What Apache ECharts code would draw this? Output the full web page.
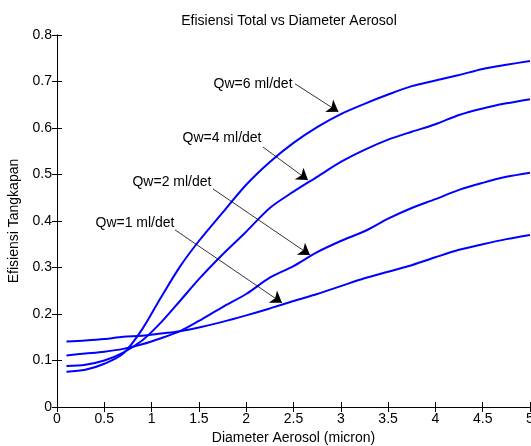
<!DOCTYPE html>
<html>
<head>
<meta charset="utf-8">
<script src="https://cdn.jsdelivr.net/npm/echarts@6/dist/echarts.min.js"></script>
<style>
html,body{margin:0;padding:0;background:#fff;}
#chart{width:531px;height:446px;}
</style>
</head>
<body>
<div id="chart"></div>
<script>
// ---- data ----
const diameter = [0.1,0.3,0.5,0.7,0.9,1.1,1.3,1.5,1.75,2,2.25,2.5,2.75,3,3.25,3.5,3.75,4,4.25,4.5,4.75,5];
const qw1 = [0.141,0.143,0.146,0.151,0.153,0.158,0.163,0.171,0.183,0.197,0.212,0.228,0.243,0.260,0.277,0.291,0.305,0.322,0.338,0.350,0.361,0.370];
const qw2 = [0.111,0.115,0.119,0.125,0.135,0.148,0.163,0.185,0.215,0.243,0.278,0.303,0.333,0.357,0.378,0.405,0.428,0.447,0.467,0.482,0.495,0.504];
const qw4 = [0.088,0.091,0.100,0.117,0.143,0.182,0.228,0.275,0.328,0.377,0.428,0.463,0.495,0.527,0.553,0.575,0.592,0.608,0.628,0.642,0.653,0.662];
const qw6 = [0.076,0.080,0.093,0.115,0.167,0.236,0.302,0.357,0.418,0.478,0.527,0.568,0.602,0.630,0.652,0.672,0.690,0.702,0.714,0.727,0.736,0.744];

const xTickLabels = ['0','0.5','1','1.5','2','2.5','3','3.5','4','4.5','5'];
const yTickLabels = ['0','0.1','0.2','0.3','0.4','0.5','0.6','0.7','0.8'];

const annotationText = ['Qw=1 ml/det','Qw=2 ml/det','Qw=4 ml/det','Qw=6 ml/det'];
const annotationTextAnchor = [[1.247,0.396],[1.638,0.484],[2.167,0.578],[2.495,0.695]];
const arrowStart = [[1.247,0.381],[1.649,0.469],[2.178,0.559],[2.516,0.695]];
const arrowEnd = [[2.378,0.224],[2.674,0.327],[2.653,0.488],[2.975,0.635]];

const seriesValues = [qw1, qw2, qw4, qw6];

// ---- chart ----
const FONT = 'Liberation Sans, Arial, Helvetica, sans-serif';
const chart = echarts.init(document.getElementById('chart'), null, {renderer:'canvas'});

function pairs(ys){ return diameter.map((x,i)=>[x, ys[i]]); }

const series = seriesValues.map((ys, k) => ({
  type: 'line',
  data: pairs(ys),
  showSymbol: false,
  symbol: 'none',
  smooth: 0.3,
  lineStyle: {color: '#0000ff', width: 2},
  itemStyle: {color: '#0000ff'},
  emphasis: {disabled: true},
  silent: true,
  z: 3,
  markLine: {
    silent: true,
    symbol: ['none', 'arrow'],
    symbolSize: 11,
    label: {show: false},
    emphasis: {disabled: true},
    lineStyle: {color: '#000', width: 0.8, type: 'solid'},
    data: [[{coord: arrowStart[k]}, {coord: arrowEnd[k]}]]
  },
  markPoint: {
    silent: true,
    symbol: 'circle',
    symbolSize: 1,
    itemStyle: {color: 'rgba(0,0,0,0)'},
    label: {show: true, position: 'left', distance: 0, color: '#000', fontSize: 14, fontFamily: FONT,
            formatter: annotationText[k]},
    emphasis: {disabled: true},
    data: [{coord: annotationTextAnchor[k]}]
  }
}));

const option = {
  animation: false,
  backgroundColor: '#fff',
  title: {
    text: 'Efisiensi Total vs Diameter Aerosol',
    left: 284, top: 9, textAlign: 'center',
    textStyle: {fontSize: 14, fontWeight: 'normal', color: '#000', fontFamily: FONT}
  },
  grid: {left: 57, right: 1, top: 35, bottom: 39, show: false, containLabel: false, outerBoundsMode: 'none'},
  xAxis: [{
    type: 'value', min: 0, max: 5, interval: 0.5, position: 'bottom',
    name: 'Diameter Aerosol (micron)', nameLocation: 'middle', nameGap: 23,
    nameTextStyle: {fontSize: 14, color: '#000', fontFamily: FONT},
    axisLine: {show: true, lineStyle: {color: '#000', width: 1}},
    axisTick: {show: true, inside: true, length: 5, lineStyle: {color: '#000'}},
    axisLabel: {show: true, margin: 5, fontSize: 14, color: '#000', fontFamily: FONT,
                formatter: v => xTickLabels[Math.round(v / 0.5)]},
    splitLine: {show: false}
  },{
    type: 'value', min: 0, max: 5, interval: 0.5, position: 'top',
    axisLine: {show: true, lineStyle: {color: '#000', width: 1}},
    axisTick: {show: true, inside: true, length: 5, lineStyle: {color: '#000'}},
    axisLabel: {show: false},
    splitLine: {show: false}
  }],
  yAxis: [{
    type: 'value', min: 0, max: 0.8, interval: 0.1, position: 'left',
    name: 'Efisiensi Tangkapan', nameLocation: 'middle', nameGap: 31,
    nameTextStyle: {fontSize: 14, color: '#000', fontFamily: FONT},
    axisLine: {show: true, lineStyle: {color: '#000', width: 1}},
    axisTick: {show: true, inside: true, length: 5, lineStyle: {color: '#000'}},
    axisLabel: {show: true, margin: 5, fontSize: 14, color: '#000', fontFamily: FONT,
                formatter: v => yTickLabels[Math.round(v / 0.1)]},
    splitLine: {show: false}
  },{
    type: 'value', min: 0, max: 0.8, interval: 0.1, position: 'right',
    axisLine: {show: true, lineStyle: {color: '#000', width: 1}},
    axisTick: {show: true, inside: true, length: 5, lineStyle: {color: '#000'}},
    axisLabel: {show: false},
    splitLine: {show: false}
  }],
  series: series
};
chart.setOption(option);
</script>
</body>
</html>
